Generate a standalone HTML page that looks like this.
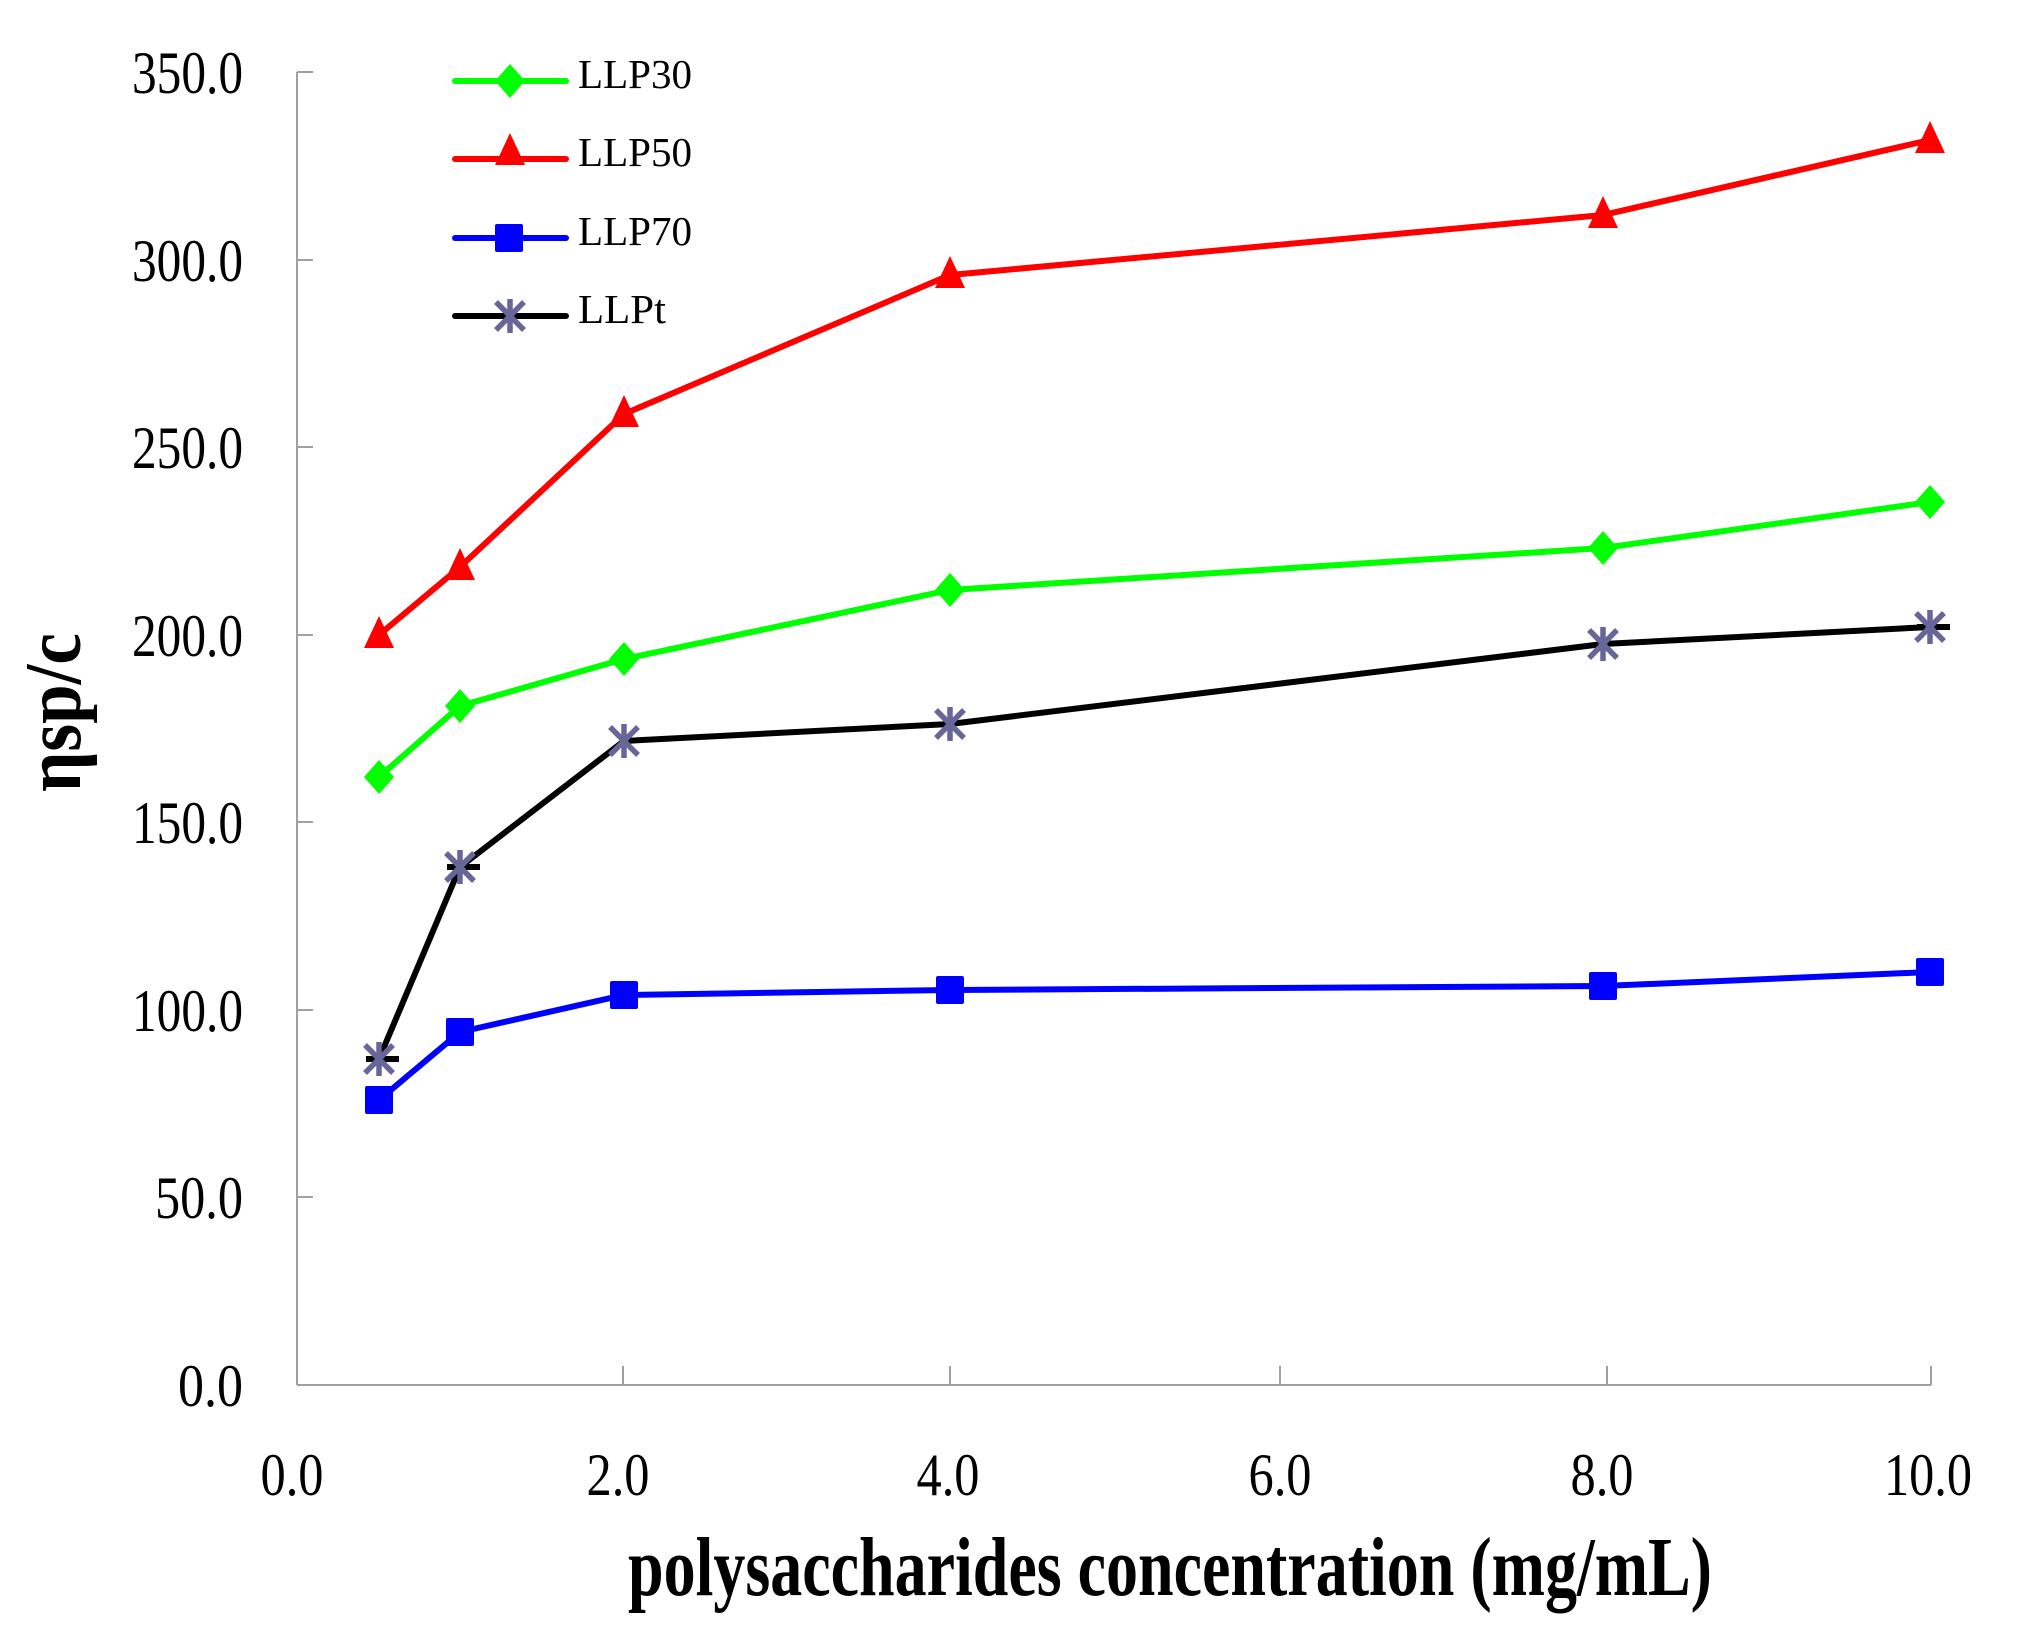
<!DOCTYPE html>
<html><head><meta charset="utf-8"><style>html,body{margin:0;padding:0;background:#fff}svg{display:block}</style></head>
<body>
<svg xmlns="http://www.w3.org/2000/svg" width="2041" height="1631" viewBox="0 0 2041 1631">
<defs>
<path id="dia" d="M0,-17 L15,0 L0,17 L-15,0 Z"/>
<path id="tri" d="M0,-19 L15,13 L-15,13 Z"/>
<rect id="sq" x="-14" y="-14" width="28" height="28" rx="2"/>
<g id="ast" stroke="#666699" stroke-width="5.5" fill="none"><line x1="0" y1="-17" x2="0" y2="17"/><line x1="-14" y1="-14" x2="14" y2="14"/><line x1="-14" y1="14" x2="14" y2="-14"/></g>
</defs>
<g stroke="#a0a0a0" stroke-width="2" fill="none">
<line x1="297" y1="72" x2="297" y2="1385"/>
<line x1="297" y1="1385" x2="1931" y2="1385"/>
<line x1="297" y1="72" x2="313" y2="72"/>
<line x1="297" y1="260" x2="313" y2="260"/>
<line x1="297" y1="447" x2="313" y2="447"/>
<line x1="297" y1="635" x2="313" y2="635"/>
<line x1="297" y1="822" x2="313" y2="822"/>
<line x1="297" y1="1010" x2="313" y2="1010"/>
<line x1="297" y1="1197" x2="313" y2="1197"/>
<line x1="623" y1="1366" x2="623" y2="1385"/>
<line x1="950" y1="1366" x2="950" y2="1385"/>
<line x1="1280" y1="1366" x2="1280" y2="1385"/>
<line x1="1607" y1="1366" x2="1607" y2="1385"/>
<line x1="1931" y1="1366" x2="1931" y2="1385"/>
</g>
<g font-family="Liberation Serif, serif" font-size="60" fill="#000" text-anchor="end">
<text x="243" y="93" textLength="111" lengthAdjust="spacingAndGlyphs">350.0</text>
<text x="243" y="281" textLength="111" lengthAdjust="spacingAndGlyphs">300.0</text>
<text x="243" y="468" textLength="111" lengthAdjust="spacingAndGlyphs">250.0</text>
<text x="243" y="656" textLength="111" lengthAdjust="spacingAndGlyphs">200.0</text>
<text x="243" y="843" textLength="111" lengthAdjust="spacingAndGlyphs">150.0</text>
<text x="243" y="1031" textLength="111" lengthAdjust="spacingAndGlyphs">100.0</text>
<text x="243" y="1218" textLength="88" lengthAdjust="spacingAndGlyphs">50.0</text>
<text x="243" y="1406" textLength="65" lengthAdjust="spacingAndGlyphs">0.0</text>
</g>
<g font-family="Liberation Serif, serif" font-size="60" fill="#000" text-anchor="middle">
<text x="292" y="1495" textLength="63" lengthAdjust="spacingAndGlyphs">0.0</text>
<text x="618" y="1495" textLength="63" lengthAdjust="spacingAndGlyphs">2.0</text>
<text x="948" y="1495" textLength="63" lengthAdjust="spacingAndGlyphs">4.0</text>
<text x="1280" y="1495" textLength="63" lengthAdjust="spacingAndGlyphs">6.0</text>
<text x="1602" y="1495" textLength="63" lengthAdjust="spacingAndGlyphs">8.0</text>
<text x="1928" y="1495" textLength="88" lengthAdjust="spacingAndGlyphs">10.0</text>
</g>
<text x="628" y="1595" font-family="Liberation Serif, serif" font-weight="bold" font-size="84" textLength="1084" lengthAdjust="spacingAndGlyphs">polysaccharides concentration (mg/mL)</text>
<text transform="translate(80,792) rotate(-90)" font-family="Liberation Serif, serif" font-weight="bold" font-size="80" textLength="159" lengthAdjust="spacingAndGlyphs">ηsp/c</text>

<polyline fill="none" stroke="#ff0000" stroke-width="6" points="379,635 460,567 624,414 950,275 1603,215 1930,140"/>
<g fill="#ff0000"><use href="#tri" x="379" y="635"/><use href="#tri" x="460" y="567"/><use href="#tri" x="624" y="414"/><use href="#tri" x="950" y="275"/><use href="#tri" x="1603" y="215"/><use href="#tri" x="1930" y="140"/></g>
<polyline fill="none" stroke="#00ff00" stroke-width="6" points="379,777 460,706 624,659 950,590 1603,548 1930,502"/>
<g fill="#00ff00"><use href="#dia" x="379" y="777"/><use href="#dia" x="460" y="706"/><use href="#dia" x="624" y="659"/><use href="#dia" x="950" y="590"/><use href="#dia" x="1603" y="548"/><use href="#dia" x="1930" y="502"/></g>
<polyline fill="none" stroke="#000" stroke-width="6" points="379,1059 460,867 624,741 950,724 1603,644 1930,627"/>
<g stroke="#000" stroke-width="6"><line x1="366" y1="1059" x2="399" y2="1059"/><line x1="447" y1="867" x2="480" y2="867"/><line x1="1917" y1="627" x2="1950" y2="627"/></g>
<g><use href="#ast" x="379" y="1059"/><use href="#ast" x="460" y="867"/><use href="#ast" x="624" y="741"/><use href="#ast" x="950" y="724"/><use href="#ast" x="1603" y="644"/><use href="#ast" x="1930" y="627"/></g>
<polyline fill="none" stroke="#0000ff" stroke-width="6" points="379,1100 460,1032 624,995 950,990 1603,986 1930,972"/>
<g fill="#0000ff"><use href="#sq" x="379" y="1100"/><use href="#sq" x="460" y="1032"/><use href="#sq" x="624" y="995"/><use href="#sq" x="950" y="990"/><use href="#sq" x="1603" y="986"/><use href="#sq" x="1930" y="972"/></g>

<g stroke-width="6" stroke-linecap="round">
<line x1="455" y1="81" x2="566" y2="81" stroke="#00ff00"/>
<line x1="455" y1="159" x2="566" y2="159" stroke="#ff0000"/>
<line x1="455" y1="238" x2="566" y2="238" stroke="#0000ff"/>
<line x1="455" y1="316" x2="566" y2="316" stroke="#000"/>
</g>
<use href="#dia" x="510" y="81" fill="#00ff00"/>
<use href="#tri" x="510" y="152" fill="#ff0000"/>
<use href="#sq" x="509" y="238" fill="#0000ff"/>
<use href="#ast" x="510" y="316"/>
<g font-family="Liberation Serif, serif" font-size="41" fill="#000">
<text x="578" y="88" textLength="114" lengthAdjust="spacingAndGlyphs">LLP30</text>
<text x="578" y="166" textLength="114" lengthAdjust="spacingAndGlyphs">LLP50</text>
<text x="578" y="245" textLength="114" lengthAdjust="spacingAndGlyphs">LLP70</text>
<text x="578" y="323" textLength="88" lengthAdjust="spacingAndGlyphs">LLPt</text>
</g>
</svg>
</body></html>
